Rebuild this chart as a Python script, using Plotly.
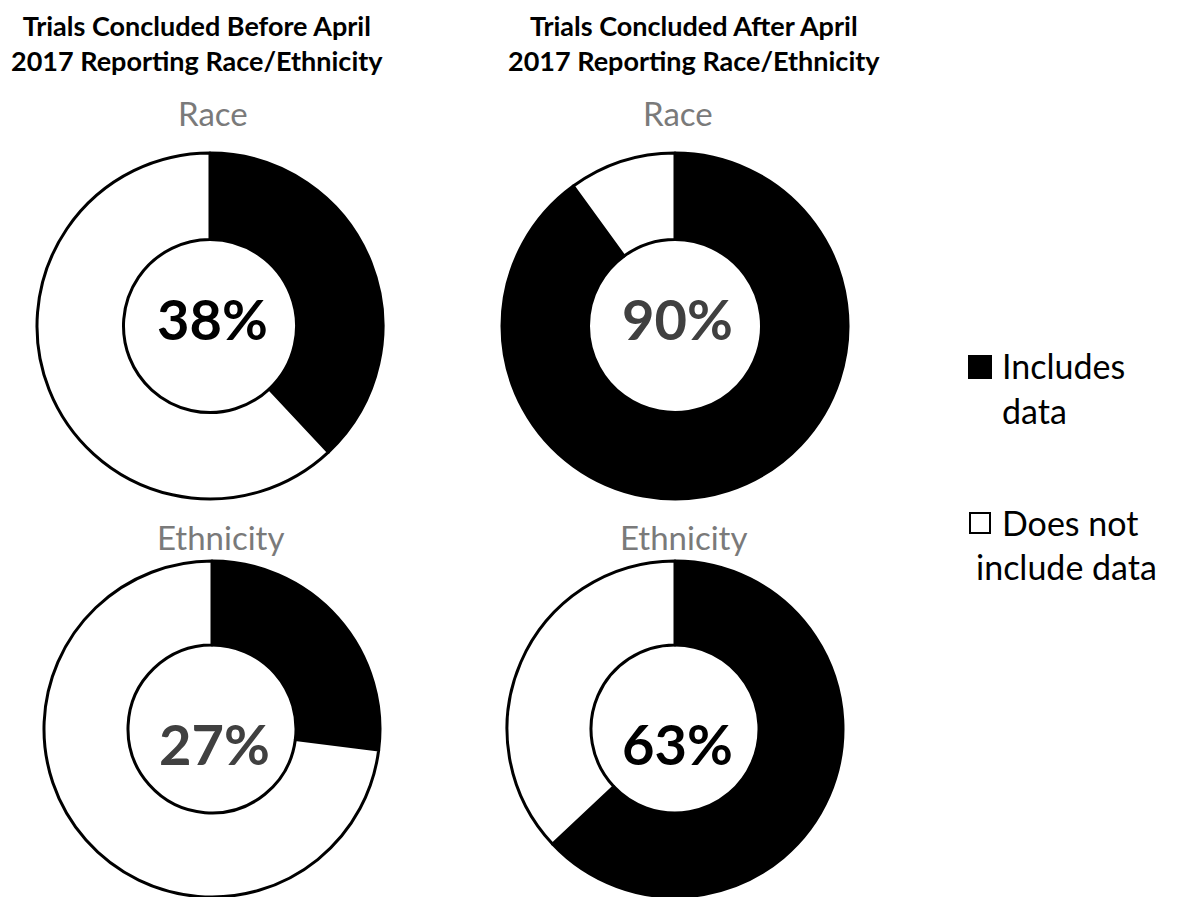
import plotly.graph_objects as go

# ---- data ----
panel_titles = ["Trials Concluded Before April<br>2017 Reporting Race/Ethnicity",
                "Trials Concluded After April<br>2017 Reporting Race/Ethnicity"]
row_labels = ["Race", "Ethnicity"]
categories = ["Includes data", "Does not include data"]
legend_labels = [["Includes", "data"], ["Does not", "include data"]]
before_race = [38, 62]
after_race = [90, 10]
before_eth = [27, 73]
after_eth = [63, 37]
pct_colors = ["#000000", "#404040", "#404040", "#000000"]

OFF = 8  # default page margin of the html body
W, H = 1189 - 2 * OFF, 905 - 2 * OFF
FONT = "Lato"

def px(x):
    return (x - OFF) / W

def py(y):
    return 1 - (y - OFF) / H

# (center x, center y, radius, text y)
layouts = [(210, 326, 173, 319), (675, 326, 173, 319), (212, 729, 168, 743), (675, 729, 168, 743)]
series = [before_race, after_race, before_eth, after_eth]

fig = go.Figure()
for (cx, cy, R, _), vals in zip(layouts, series):
    fig.add_trace(go.Pie(
        labels=categories, values=vals, hole=0.5, sort=False,
        direction="clockwise", rotation=0,
        marker=dict(colors=["#000000", "#ffffff"], line=dict(color="#000000", width=3)),
        textinfo="none", hoverinfo="label+percent", showlegend=False,
        domain=dict(x=[px(cx - R), px(cx + R)], y=[py(cy + R), py(cy - R)]),
    ))

annotations = []
# panel titles
for title, x in zip(panel_titles, [197, 694]):
    annotations.append(dict(text="<b>" + title + "</b>", x=px(x), y=1.0, xref="paper", yref="paper",
                            showarrow=False, font=dict(family=FONT, size=27, color="#000000"),
                            align="center", xanchor="center", yanchor="top", borderpad=0))
# row labels
for lab, y, xs in [(row_labels[0], 113, [213, 678]), (row_labels[1], 537, [220, 683])]:
    for x in xs:
        annotations.append(dict(text=lab, x=px(x), y=py(y), xref="paper", yref="paper",
                                showarrow=False, font=dict(family=FONT, size=33, color="#7a7a7a"),
                                xanchor="center", yanchor="middle"))
# center percentages
for (cx, cy, R, ty), vals, col in zip(layouts, series, pct_colors):
    annotations.append(dict(text="<b>%d%%</b>" % vals[0], x=px(cx + 2), y=py(ty), xref="paper", yref="paper",
                            showarrow=False, font=dict(family=FONT, size=56, color=col),
                            xanchor="center", yanchor="middle"))
# legend text
leg_rows = [(legend_labels[0][0], 1000, 366), (legend_labels[0][1], 1000, 410),
            (legend_labels[1][0], 1000, 522), (legend_labels[1][1], 974, 566)]
for t, x, y in leg_rows:
    annotations.append(dict(text=t, x=px(x), y=py(y), xref="paper", yref="paper",
                            showarrow=False, font=dict(family=FONT, size=34, color="#000000"),
                            xanchor="left", yanchor="middle"))

shapes = [
    dict(type="rect", xref="paper", yref="paper", x0=px(969), x1=px(991), y0=py(378), y1=py(356),
         fillcolor="#000000", line=dict(color="#000000", width=2)),
    dict(type="rect", xref="paper", yref="paper", x0=px(970), x1=px(990), y0=py(533), y1=py(513),
         fillcolor="#ffffff", line=dict(color="#000000", width=2)),
]

fig.update_layout(width=W, height=H, margin=dict(l=0, r=0, t=0, b=0),
                  paper_bgcolor="#ffffff", plot_bgcolor="#ffffff",
                  annotations=annotations, shapes=shapes, showlegend=False)
fig.write_html("out.html")
